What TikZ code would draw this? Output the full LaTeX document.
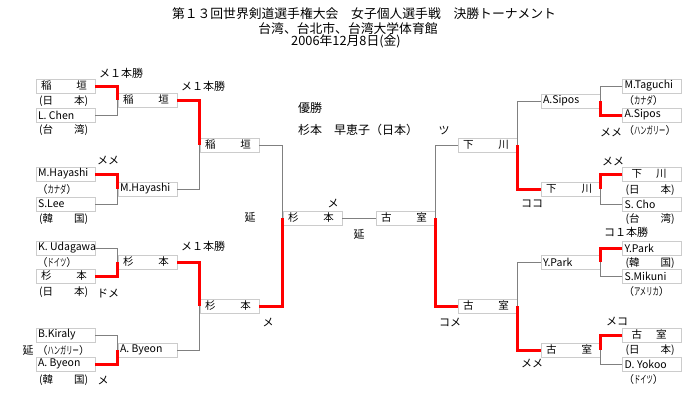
\documentclass[tikz,border=0pt]{standalone}
\usepackage{fontspec}
\setmainfont{Noto Sans CJK JP}
\usepackage{xcolor}
\usepackage{graphicx}
\usetikzlibrary{calc}
\newcommand{\pn}[1]{\makebox[55pt][l]{#1}}
\newcommand{\jn}[2]{\makebox[55pt][l]{\hspace*{3pt}#1\hfill#2\hspace*{6pt}}}
\newcommand{\jnr}[2]{\makebox[55pt][l]{\hspace*{7pt}#1\hspace{14pt}#2}}
\newcommand{\hk}[1]{（\scalebox{0.6}[1]{#1}）}

\begin{document}
\begin{tikzpicture}[x=1pt,y=-1pt]
\tikzset{win/.style={red,line width=3pt}, lose/.style={gray,line width=1pt}}
\tikzstyle{pbox}=[draw=gray!40,fill=white,minimum width=59pt,minimum height=14pt,inner sep=1pt,font=\fontsize{10.5}{12}\selectfont]
\tikzstyle{ctry}=[anchor=west,inner sep=0pt,font=\fontsize{10.5}{11}\selectfont]
\tikzstyle{res}=[inner sep=0pt,font=\fontsize{11}{12}\selectfont]
\tikzstyle{ttl}=[inner sep=0pt,font=\fontsize{12.8}{14}\selectfont]

\fill[white] (0,0) rectangle (700,400);
\useasboundingbox (0,0) rectangle (700,400);

\node[ttl](t1) at (364,14){第１３回世界剣道選手権大会　女子個人選手戦　決勝トーナメント};
\node[ttl](t2) at (348,29){台湾、台北市、台湾大学体育館};
\node[ttl](t3) at (346,41){2006年12月8日(金)};

\node[pbox](a1) at (65.5,86){\jn{稲}{垣}};
\node[pbox](a2) at (65.5,115){\pn{L. Chen}};
\node[pbox](a3) at (65.5,174){\pn{M.Hayashi}};
\node[pbox](a4) at (65.5,204){\pn{S.Lee}};
\node[pbox](a5) at (65.5,248){\pn{K. Udagawa}};
\node[pbox](a6) at (65.5,276){\jn{杉}{本}};
\node[pbox](a7) at (65.5,335){\pn{B.Kiraly}};
\node[pbox](a8) at (65.5,364){\pn{A. Byeon}};

\node[pbox](b1) at (147.5,100){\jn{稲}{垣}};
\node[pbox](b2) at (147.5,189){\pn{M.Hayashi}};
\node[pbox](b3) at (147.5,262){\jn{杉}{本}};
\node[pbox](b4) at (147.5,350){\pn{A. Byeon}};

\node[pbox](c1) at (229.5,145){\jn{稲}{垣}};
\node[pbox](c2) at (229.5,306){\jn{杉}{本}};

\node[pbox](f1) at (312.5,218){\jn{杉}{本}};
\node[pbox](f2) at (405.5,218){\jn{古}{室}};

\node[pbox](rc1) at (487.5,145){\jn{下}{川}};
\node[pbox](rc2) at (487.5,306){\jn{古}{室}};

\node[pbox](rb1) at (570.5,101){\pn{A.Sipos}};
\node[pbox](rb2) at (570.5,189){\jn{下}{川}};
\node[pbox](rb3) at (570.5,262){\pn{Y.Park}};
\node[pbox](rb4) at (570.5,350){\jn{古}{室}};

\node[pbox](ra1) at (652,86){\pn{M.Taguchi}};
\node[pbox](ra2) at (652,115){\pn{A.Sipos}};
\node[pbox](ra3) at (652,174){\jnr{下}{川}};
\node[pbox](ra4) at (652,204){\pn{S. Cho}};
\node[pbox](ra5) at (652,248){\pn{Y.Park}};
\node[pbox](ra6) at (652,276){\pn{S.Mikuni}};
\node[pbox](ra7) at (652,335){\jnr{古}{室}};
\node[pbox](ra8) at (652,364){\pn{D. Yokoo}};

\node[ctry](na1) at ($(a1.west)+(3,15.5)$){(日　　本)};
\node[ctry](na2) at ($(a2.west)+(3,15.5)$){(台　　湾)};
\node[ctry](na3) at ($(a3.west)+(1,15.5)$){\hk{カナダ}};
\node[ctry](na4) at ($(a4.west)+(3,15.5)$){(韓　　国)};
\node[ctry](na5) at ($(a5.west)+(1,15)$){\hk{ドイツ}};
\node[ctry](na6) at ($(a6.west)+(3,16.5)$){(日　　本)};
\node[ctry](na7) at ($(a7.west)+(1,15.5)$){\hk{ハンガリー}};
\node[ctry](na8) at ($(a8.west)+(3,16)$){(韓　　国)};

\node[ctry](nr1) at ($(ra1.west)+(1,14.5)$){\hk{カナダ}};
\node[ctry](nr2) at ($(ra2.west)+(1,16)$){\hk{ハンガリー}};
\node[ctry](nr3) at ($(ra3.west)+(3,16)$){(日　　本)};
\node[ctry](nr4) at ($(ra4.west)+(3,15.5)$){(台　　湾)};
\node[ctry](nr5) at ($(ra5.west)+(3,15)$){(韓　　国)};
\node[ctry](nr6) at ($(ra6.west)+(1,15)$){\hk{アメリカ}};
\node[ctry](nr7) at ($(ra7.west)+(3,15)$){(日　　本)};
\node[ctry](nr8) at ($(ra8.west)+(1,15)$){\hk{ドイツ}};

\node[res](m1) at (121,73){メ１本勝};
\node[res](m2) at (203,86){メ１本勝};
\node[res](m3) at (108,160){メメ};
\node[res](m4) at (203,246){メ１本勝};
\node[res](m5) at (108,293){ドメ};
\node[res](m6) at (28,350){延};
\node[res](m7) at (103,380){メ};
\node[res](m8) at (250,217){延};
\node[res](m9) at (333,203){メ};
\node[res](m10) at (359,234){延};
\node[res](m11) at (268,322){メ};
\node[res](m12) at (450,322){コメ};
\node[res](m13) at (444,131){ツ};
\node[res](m14) at (611,132){メメ};
\node[res](m15) at (532,204){ココ};
\node[res](m16) at (613,161){メメ};
\node[res](m17) at (626,232){コ１本勝};
\node[res](m18) at (532,363){メメ};
\node[res](m19) at (617,321){メコ};

\node[res,anchor=west,font=\fontsize{12}{13}\selectfont](w1) at (298,108){優勝};
\node[res,anchor=west,font=\fontsize{12}{13}\selectfont](w2) at (298,130){杉本　早恵子（日本）};

\draw [lose] (a2.east) -- (a2.east -| b1.west) -- (b1.west);
\draw [win] (a1.east) -- (a1.east -| b1.west) -- (b1.west);
\draw [lose] (a4.east) -- (a4.east -| b2.west) -- (b2.west);
\draw [win] (a3.east) -- (a3.east -| b2.west) -- (b2.west);
\draw [lose] (a5.east) -- (a5.east -| b3.west) -- (b3.west);
\draw [win] (a6.east) -- (a6.east -| b3.west) -- (b3.west);
\draw [lose] (a7.east) -- (a7.east -| b4.west) -- (b4.west);
\draw [win] (a8.east) -- (a8.east -| b4.west) -- (b4.west);

\draw [lose] (b2.east) -- (b2.east -| c1.west) -- (c1.west);
\draw [win] (b1.east) -- (b1.east -| c1.west) -- (c1.west);
\draw [lose] (b4.east) -- (b4.east -| c2.west) -- (c2.west);
\draw [win] (b3.east) -- (b3.east -| c2.west) -- (c2.west);

\draw [lose] (c1.east) -- (c1.east -| f1.west) -- (f1.west);
\draw [win] (c2.east) -- (c2.east -| f1.west) -- (f1.west);

\draw [lose] (f1) -- (f2);

\draw [lose] (rc1.west) -- (rc1.west -| f2.east) -- (f2.east);
\draw [win] (rc2.west) -- (rc2.west -| f2.east) -- (f2.east);

\draw [lose] (rb1.west) -- (rb1.west -| rc1.east) -- (rc1.east);
\draw [win] (rb2.west) -- (rb2.west -| rc1.east) -- (rc1.east);
\draw [lose] (rb3.west) -- (rb3.west -| rc2.east) -- (rc2.east);
\draw [win] (rb4.west) -- (rb4.west -| rc2.east) -- (rc2.east);

\draw [lose] (ra1.west) -- (ra1.west -| rb1.east) -- (rb1.east);
\draw [win] (ra2.west) -- (ra2.west -| rb1.east) -- (rb1.east);
\draw [lose] (ra4.west) -- (ra4.west -| rb2.east) -- (rb2.east);
\draw [win] (ra3.west) -- (ra3.west -| rb2.east) -- (rb2.east);
\draw [lose] (ra6.west) -- (ra6.west -| rb3.east) -- (rb3.east);
\draw [win] (ra5.west) -- (ra5.west -| rb3.east) -- (rb3.east);
\draw [lose] (ra8.west) -- (ra8.west -| rb4.east) -- (rb4.east);
\draw [win] (ra7.west) -- (ra7.west -| rb4.east) -- (rb4.east);
\end{tikzpicture}
\end{document}
